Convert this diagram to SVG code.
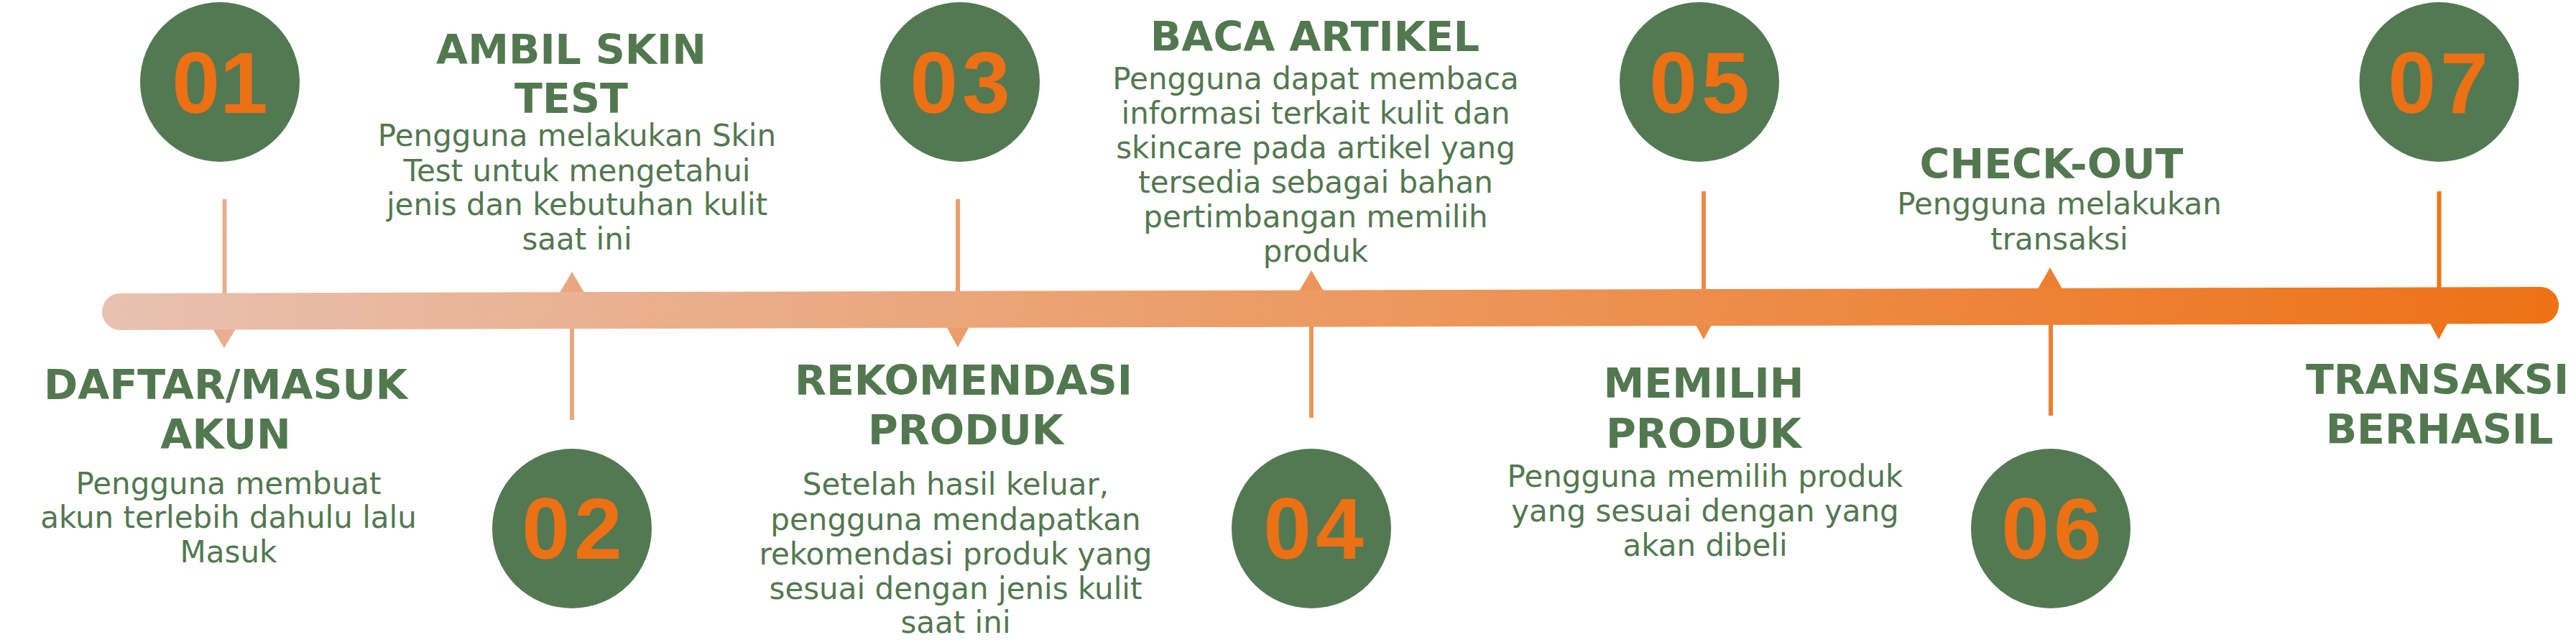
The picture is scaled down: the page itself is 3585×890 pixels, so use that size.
<svg xmlns="http://www.w3.org/2000/svg" width="3585" height="890" viewBox="0 0 3585 890">
<defs>
<linearGradient id="barGrad" gradientUnits="userSpaceOnUse" x1="142" y1="0" x2="3561" y2="0">
<stop offset="0" stop-color="#E8C1B1"/>
<stop offset="0.5" stop-color="#EC9A62"/>
<stop offset="1" stop-color="#EE7116"/>
</linearGradient>
<linearGradient id="conGrad" gradientUnits="userSpaceOnUse" x1="142" y1="0" x2="3561" y2="0">
<stop offset="0" stop-color="#E8B197"/>
<stop offset="0.5" stop-color="#EC9558"/>
<stop offset="1" stop-color="#EE7014"/>
</linearGradient>
<style>
.dot{fill:#537953;}
.num{font-family:"Liberation Sans",Arial,sans-serif;font-weight:700;font-size:120px;fill:#EC7014;text-anchor:middle;letter-spacing:6px;}
.title{font-family:"DejaVu Sans",sans-serif;font-weight:700;font-size:57px;fill:#52784F;text-anchor:middle;}
.desc{font-family:"DejaVu Sans",sans-serif;font-size:42px;fill:#52784F;text-anchor:middle;}
.line{stroke:url(#conGrad);stroke-width:6;fill:none;}
.tri{fill:url(#conGrad);}
</style>
</defs>
<rect width="3585" height="890" fill="#FFFFFF"/>
<g id="connectors">
<line class="line" x1="312.5" y1="277" x2="312.5" y2="420"/>
<line class="line" x1="1333" y1="277" x2="1333" y2="420"/>
<line class="line" x1="2371" y1="266" x2="2371" y2="420"/>
<line class="line" x1="3394.5" y1="266" x2="3394.5" y2="420"/>
<line class="line" x1="796" y1="440" x2="796" y2="584"/>
<line class="line" x1="1825" y1="440" x2="1825" y2="581"/>
<line class="line" x1="2854" y1="440" x2="2854" y2="578"/>
<polygon class="tri" points="777.1,410 814.9,410 796,378"/>
<polygon class="tri" points="1806.6,407 1843.4,407 1825,376"/>
<polygon class="tri" points="2834.7,404 2871.3,404 2853,372"/>
<polygon class="tri" points="294.6,455 329.4,455 312,484"/>
<polygon class="tri" points="1315.8,452 1350.2,452 1333,483"/>
<polygon class="tri" points="2358.4,449 2383.6,449 2371,472"/>
<polygon class="tri" points="3380.4,447 3407.6,447 3394,472"/>
<path id="timeline-bar" d="M167.5,407.9 L3535.5,399.1 A25.5,25.5 0 0 1 3535.5,450.1 L167.5,458.9 A25.5,25.5 0 0 1 167.5,407.9 Z" fill="url(#barGrad)"/>
</g>
<g id="step-01">
<circle class="dot" cx="306" cy="114" r="111"/>
<text class="num" x="306" y="157" style="letter-spacing:0px">01</text>
<text class="title" x="314" y="555">DAFTAR/MASUK</text>
<text class="title" x="314" y="624">AKUN</text>
<text class="desc" x="318" y="687">Pengguna membuat</text>
<text class="desc" x="318" y="734">akun terlebih dahulu lalu</text>
<text class="desc" x="318" y="782">Masuk</text>
</g>
<g id="step-02">
<circle class="dot" cx="796" cy="735" r="111"/>
<text class="num" x="799" y="777">02</text>
<text class="title" x="795" y="89">AMBIL SKIN</text>
<text class="title" x="795" y="157">TEST</text>
<text class="desc" x="803" y="203">Pengguna melakukan Skin</text>
<text class="desc" x="803" y="252">Test untuk mengetahui</text>
<text class="desc" x="803" y="299">jenis dan kebutuhan kulit</text>
<text class="desc" x="803" y="347">saat ini</text>
</g>
<g id="step-03">
<circle class="dot" cx="1336" cy="114" r="111"/>
<text class="num" x="1339" y="157">03</text>
<text class="title" x="1341" y="549">REKOMENDASI</text>
<text class="title" x="1344" y="618">PRODUK</text>
<text class="desc" x="1330" y="688">Setelah hasil keluar,</text>
<text class="desc" x="1330" y="737">pengguna mendapatkan</text>
<text class="desc" x="1330" y="785">rekomendasi produk yang</text>
<text class="desc" x="1330" y="833">sesuai dengan jenis kulit</text>
<text class="desc" x="1330" y="880">saat ini</text>
</g>
<g id="step-04">
<circle class="dot" cx="1825" cy="735" r="111"/>
<text class="num" x="1831" y="777">04</text>
<text class="title" x="1830" y="71">BACA ARTIKEL</text>
<text class="desc" x="1831" y="124">Pengguna dapat membaca</text>
<text class="desc" x="1831" y="172">informasi terkait kulit dan</text>
<text class="desc" x="1831" y="220">skincare pada artikel yang</text>
<text class="desc" x="1831" y="268">tersedia sebagai bahan</text>
<text class="desc" x="1831" y="316">pertimbangan memilih</text>
<text class="desc" x="1831" y="364">produk</text>
</g>
<g id="step-05">
<circle class="dot" cx="2365" cy="114" r="111"/>
<text class="num" x="2368" y="157">05</text>
<text class="title" x="2371" y="553">MEMILIH</text>
<text class="title" x="2371" y="623">PRODUK</text>
<text class="desc" x="2373" y="677">Pengguna memilih produk</text>
<text class="desc" x="2373" y="725">yang sesuai dengan yang</text>
<text class="desc" x="2373" y="773">akan dibeli</text>
</g>
<g id="step-06">
<circle class="dot" cx="2854" cy="735" r="111"/>
<text class="num" x="2858" y="777">06</text>
<text class="title" x="2855" y="248">CHECK-OUT</text>
<text class="desc" x="2866" y="298">Pengguna melakukan</text>
<text class="desc" x="2866" y="347">transaksi</text>
</g>
<g id="step-07">
<circle class="dot" cx="3394.5" cy="114" r="111"/>
<text class="num" x="3396" y="157">07</text>
<text class="title" x="3392" y="548">TRANSAKSI</text>
<text class="title" x="3395" y="617">BERHASIL</text>
</g>
</svg>
